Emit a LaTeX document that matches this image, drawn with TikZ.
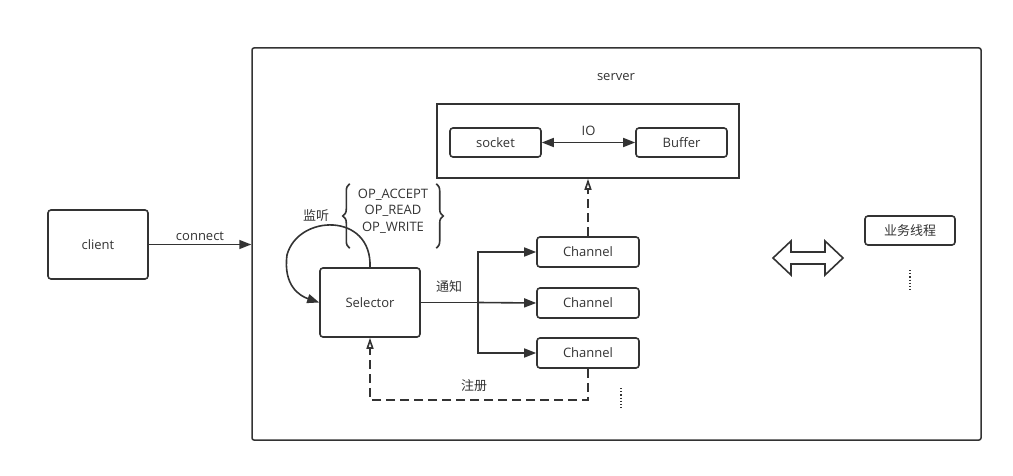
\documentclass[tikz,border=0pt]{standalone}
\usepackage{fontspec}
\setmainfont{Open Sans}
\newfontfamily\cjk{Noto Sans CJK SC}
\usepackage{xcolor}
\definecolor{ink}{HTML}{333333}
\usepackage{tikz}
\usetikzlibrary{arrows.meta, positioning, calc, decorations.pathreplacing}

\begin{document}
\begin{tikzpicture}[x=1pt, y=-1pt, font=\fontsize{13}{15}\selectfont, color=ink]
  \tikzstyle{box}=[rectangle, rounded corners=3pt, draw=ink, line width=1.6pt,
    text=ink, inner sep=0pt]
  \tikzstyle{frame}=[rectangle, rounded corners=2pt, draw=ink, line width=1.5pt,
    inner sep=0pt]
  \tikzstyle{arr}=[-{Triangle[length=12pt, width=9pt]}, line width=1.6pt, draw=ink]
  \tikzstyle{dasharr}=[-{Triangle[open, length=11pt, width=7pt]}, line width=1.6pt,
    draw=ink, dash pattern=on 9pt off 5pt]
  \tikzstyle{lbl}=[inner sep=1pt, text=ink]
  \useasboundingbox (0,0) rectangle (1013,476);
  \fill[white] (0,0) rectangle (1013,476);

  % outer parts
  \node[box, minimum width=100pt, minimum height=69pt] (client) at (98,244.5) {client};
  \node[frame, minimum width=729pt, minimum height=392pt] (server) at (616.5,244) {};
  \node[lbl] (srvlbl) at (616,77) {server};
  \draw[arr] (client.east) -- (server.west |- client.east)
    node[lbl, midway, above=2pt] {connect};

  % io part
  \node[frame, rounded corners=0pt, line width=1.6pt, minimum width=302pt,
    minimum height=74pt] (io) at (588,141) {};
  \node[box, minimum width=91pt, minimum height=29pt] (socket) at (495.5,142.5) {socket};
  \node[box, minimum width=91pt, minimum height=29pt] (buffer) [right=93.4pt of socket] {Buffer};
  \draw[arr, {Triangle[length=12pt, width=9pt]}-{Triangle[length=12pt, width=9pt]}]
    (socket.east) -- (buffer.west) node[lbl, midway, above=5pt] {IO};

  % selector and channels
  \node[box, minimum width=100pt, minimum height=69pt] (sel) at (370,302.5) {Selector};
  \node[box, minimum width=102pt, minimum height=30pt] (ch1) at (588,252) {Channel};
  \node[box, minimum width=102pt, minimum height=30pt] (ch2) [below=19.4pt of ch1] {Channel};
  \node[box, minimum width=102pt, minimum height=30pt] (ch3) [below=18.4pt of ch2] {Channel};
  \coordinate (fork) at (478,302.5);
  \draw[line width=1.6pt] (sel.east) -- (fork);
  \draw[arr] (fork) |- (ch1.west);
  \draw[arr] (fork) -- (ch2.west);
  \draw[arr] (fork) |- (ch3.west);
  \node[lbl] (notify) at (449,287) {\cjk 通知};

  \draw[dasharr] (ch1.north) -- (io.south -| ch1.north);
  \coordinate (regturn) at ($(ch3.south)+(0,31)$);
  \draw[dasharr] (ch3.south) -- (regturn) -| (sel.south);
  \node[lbl] (reg) at (474,386) {\cjk 注册};
  \draw[line width=1.2pt, dotted] (621,388) -- (621,408);

  % listen loop
  \node[lbl, align=center, minimum width=86pt, minimum height=64pt, inner sep=0pt,
    font=\fontsize{13}{16.5}\selectfont] (ops) at (393,211)
    {OP\_ACCEPT\\OP\_READ\\OP\_WRITE};
  \draw[line width=1.6pt, decorate, decoration={brace, amplitude=7pt}]
    ([yshift=-5pt]ops.south west) -- ([yshift=-5pt]ops.north west);
  \draw[line width=1.6pt, decorate, decoration={brace, amplitude=7pt}]
    ([yshift=-5pt]ops.north east) -- ([yshift=-5pt]ops.south east);
  \node[lbl] (listen) at (316,216) {\cjk 监听};
  \draw[arr] (sel.north) .. controls (372,212) and (298,214) .. (287,255)
    .. controls (283,286) and (300,296) .. (sel.west);

  % worker side
  \coordinate (dbl) at (808,258);
  \draw[line width=1.6pt, fill=white, line join=miter]
    ($(dbl)+(-35,0)$) -- ++(18,-17) -- ++(0,11) -- ++(34,0) -- ++(0,-11)
    -- ++(18,17) -- ++(-18,17) -- ++(0,-11) -- ++(-34,0) -- ++(0,11) -- cycle;
  \node[box, minimum width=90pt, minimum height=29pt] (worker) at (910,230.5) {\cjk 业务线程};
  \draw[line width=1.2pt, dotted] (910,270) -- (910,290);
\end{tikzpicture}
\end{document}
